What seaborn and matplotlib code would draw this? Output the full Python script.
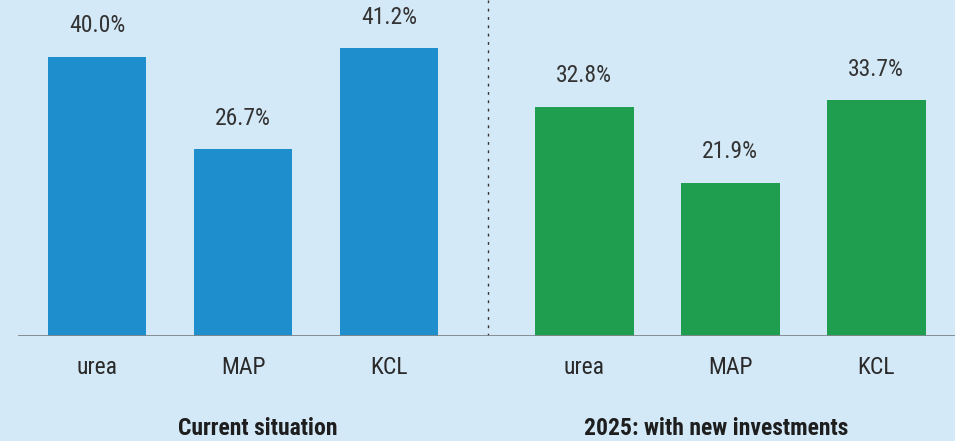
import numpy as np
import pandas as pd
import seaborn as sns
import matplotlib.pyplot as plt

# values
products = ["urea", "MAP", "KCL"]
current = [40.0, 26.7, 41.2]
future = [32.8, 21.9, 33.7]
groups = ["Current situation", "2025: with new investments"]

BG = "#d4e9f7"
BLUE = "#1e8ecd"
GREEN = "#1f9e50"

sns.set_style("white")
plt.rcParams["font.family"] = ["Roboto Condensed", "DejaVu Sans"]

gap = 3.336  # offset of second group in bar units
df = pd.DataFrame({
    "pos": list(np.arange(3)) + list(np.arange(3) + gap),
    "share": current + future,
    "group": [groups[0]] * 3 + [groups[1]] * 3,
    "product": products * 2,
})

fig = plt.figure(figsize=(9.55, 4.41), dpi=100, facecolor=BG)
ax = fig.add_axes([18 / 955, 105.5 / 441, 1 - 18 / 955, 335.5 / 441])
ax.set_facecolor(BG)

sns.barplot(data=df, x="pos", y="share", hue="group", native_scale=True,
            palette=[BLUE, GREEN], dodge=False, width=0.678, saturation=1,
            linewidth=0, legend=False, ax=ax)

for p, v in zip(df["pos"], df["share"]):
    ax.annotate(f"{v:.1f}%", (p, v), xytext=(0, 14), textcoords="offset points",
                ha="center", va="bottom", fontsize=17, color="#333333")

ax.set_xlim(-79 / 146, (955 - 18 - 79) / 146)
ax.set_ylim(0, 335.5 / 6.975)
ax.axhline(0, color="#7f878d", lw=2, zorder=5)
ax.axvline((487 - 96.3) / 146, ymin=0, ymax=1, color="#333333", lw=1,
           ls=(0, (2, 4)))

ax.set_xticks(df["pos"])
ax.set_xticklabels(df["product"], fontsize=17, color="#2a2a2a")
ax.tick_params(axis="x", length=0, pad=15)
ax.set_yticks([])
ax.set_xlabel("")
ax.set_ylabel("")
sns.despine(ax=ax, left=True, bottom=True)

title_x = [(257 - 96.3) / 146, (715 - 96.3) / 146]
for tx, g in zip(title_x, groups):
    ax.text(tx, -93 / 335.5, g, transform=ax.get_xaxis_transform(),
            ha="center", va="center", fontsize=17, fontweight="heavy",
            color="#1e1e1e")

fig.savefig("out.png", dpi=100, facecolor=BG)
